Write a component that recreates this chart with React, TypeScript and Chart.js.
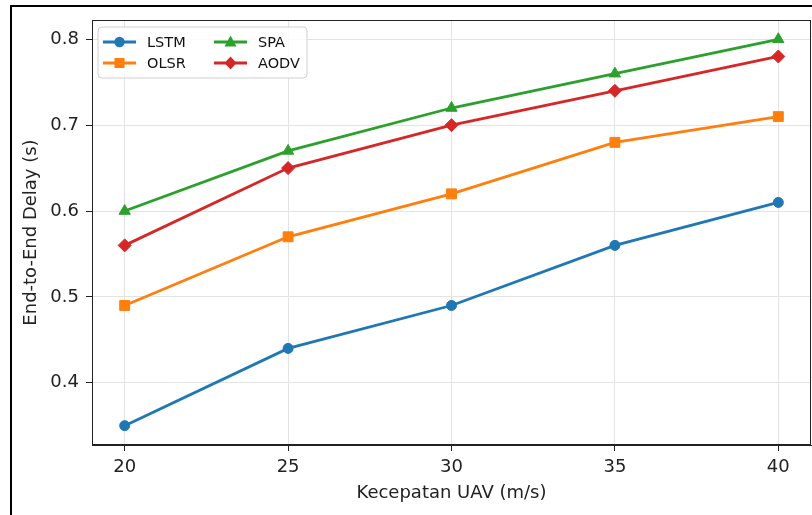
import React, { useEffect, useRef } from "react";
import Chart from "chart.js/auto";

const speeds = [20, 25, 30, 35, 40];
const lstm = [0.35, 0.44, 0.49, 0.56, 0.61];
const olsr = [0.49, 0.57, 0.62, 0.68, 0.71];
const spa = [0.6, 0.67, 0.72, 0.76, 0.8];
const aodv = [0.56, 0.65, 0.7, 0.74, 0.78];
const xTicks = [20, 25, 30, 35, 40];
const yTicks = [0.4, 0.5, 0.6, 0.7, 0.8];

const FONT = "'DejaVu Sans', sans-serif";

function drawMarker(ctx: CanvasRenderingContext2D, style: string, x: number, y: number, color: string) {
  ctx.save();
  ctx.fillStyle = color;
  ctx.beginPath();
  if (style === "circle") {
    ctx.arc(x, y, 5.2, 0, Math.PI * 2);
  } else if (style === "rect") {
    ctx.rect(x - 5, y - 5, 10, 10);
  } else if (style === "triangle") {
    ctx.moveTo(x, y - 6.5);
    ctx.lineTo(x + 6, y + 4.5);
    ctx.lineTo(x - 6, y + 4.5);
    ctx.closePath();
  } else {
    ctx.moveTo(x, y - 6.5);
    ctx.lineTo(x + 6, y);
    ctx.lineTo(x, y + 6.5);
    ctx.lineTo(x - 6, y);
    ctx.closePath();
  }
  ctx.fill();
  ctx.restore();
}

const framePlugin = {
  id: "mplFrame",
  afterDatasetsDraw(chart: any) {
    const { ctx, chartArea: a } = chart;
    ctx.save();
    ctx.strokeStyle = "#222";
    ctx.lineWidth = 1;
    ctx.strokeRect(a.left + 0.5, a.top + 0.5, a.right - a.left - 1, a.bottom - a.top - 1);
    ctx.restore();
  },
  afterDraw(chart: any) {
    const { ctx, chartArea: a } = chart;
    const bx = a.left + 6, by = a.top + 7, bw = 209, bh = 51;
    ctx.save();
    ctx.beginPath();
    const r = 4;
    ctx.moveTo(bx + r, by);
    ctx.lineTo(bx + bw - r, by);
    ctx.quadraticCurveTo(bx + bw, by, bx + bw, by + r);
    ctx.lineTo(bx + bw, by + bh - r);
    ctx.quadraticCurveTo(bx + bw, by + bh, bx + bw - r, by + bh);
    ctx.lineTo(bx + r, by + bh);
    ctx.quadraticCurveTo(bx, by + bh, bx, by + bh - r);
    ctx.lineTo(bx, by + r);
    ctx.quadraticCurveTo(bx, by, bx + r, by);
    ctx.closePath();
    ctx.fillStyle = "rgba(255,255,255,0.85)";
    ctx.fill();
    ctx.strokeStyle = "#d0d0d0";
    ctx.lineWidth = 1;
    ctx.stroke();
    const cols = [a.left + 11, a.left + 122];
    const rows = [a.top + 22, a.top + 43];
    chart.data.datasets.forEach((ds: any, i: number) => {
      const col = Math.floor(i / 2);
      const row = i % 2;
      const x = cols[col];
      const y = rows[row];
      ctx.strokeStyle = ds.borderColor;
      ctx.lineWidth = 2.8;
      ctx.beginPath();
      ctx.moveTo(x, y);
      ctx.lineTo(x + 33, y);
      ctx.stroke();
      drawMarker(ctx, ds.pointStyle, x + 16.5, y, ds.borderColor);
      ctx.fillStyle = "#111";
      ctx.font = `14.5px ${FONT}`;
      ctx.textBaseline = "middle";
      ctx.textAlign = "left";
      ctx.fillText(ds.label, x + 44, y + 1);
    });
    ctx.restore();
  },
};

export default function App() {
  const ref = useRef<HTMLCanvasElement>(null);
  useEffect(() => {
    if (!ref.current) return;
    const mk = (label: string, vals: number[], color: string, style: string, radius: number) => ({
      label,
      data: speeds.map((s, i) => ({ x: s, y: vals[i] })),
      borderColor: color,
      backgroundColor: color,
      pointBackgroundColor: color,
      pointBorderColor: color,
      pointStyle: style,
      pointRadius: radius,
      pointBorderWidth: 1,
      borderWidth: 2.8,
      tension: 0,
    });
    const chart = new Chart(ref.current, {
      type: "line",
      data: {
        datasets: [
          mk("LSTM", lstm, "#1f77b4", "circle", 5),
          mk("OLSR", olsr, "#ff7f0e", "rect", 7),
          mk("SPA", spa, "#2ca02c", "triangle", 6.5),
          mk("AODV", aodv, "#d62728", "rectRot", 6.5),
        ],
      },
      options: {
        animation: false,
        responsive: false,
        devicePixelRatio: 1,
        layout: { padding: { left: 0, top: 20, right: 2, bottom: 0 } },
        plugins: { legend: { display: false }, tooltip: { enabled: false } },
        scales: {
          x: {
            type: "linear",
            min: 19,
            max: 41,
            afterBuildTicks: (s: any) => {
              s.ticks = xTicks.map((v) => ({ value: v }));
            },
            afterFit: (s: any) => {
              s.height = 70;
            },
            grid: { color: "#e3e3e3", lineWidth: 1, drawTicks: true, tickLength: 6, tickColor: "#222" },
            border: { color: "#222", width: 1 },
            ticks: { color: "#222", padding: 6, font: { family: FONT, size: 18 }, callback: (v: any) => String(v) },
            title: { display: true, text: "Kecepatan UAV (m/s)", color: "#222", font: { family: FONT, size: 18 }, padding: { top: 0, bottom: 11 } },
          },
          y: {
            type: "linear",
            min: 0.3275,
            max: 0.8225,
            afterBuildTicks: (s: any) => {
              s.ticks = yTicks.map((v) => ({ value: v }));
            },
            afterFit: (s: any) => {
              s.width = 92;
            },
            grid: { color: "#e3e3e3", lineWidth: 1, drawTicks: true, tickLength: 6, tickColor: "#222" },
            border: { color: "#222", width: 1 },
            ticks: { color: "#222", padding: 7, font: { family: FONT, size: 18 }, callback: (v: any) => Number(v).toFixed(1) },
            title: { display: true, text: "End-to-End Delay (s)", color: "#222", font: { family: FONT, size: 18 }, padding: { top: 21, bottom: 0 } },
          },
        },
      },
      plugins: [framePlugin],
    } as any);
    return () => chart.destroy();
  }, []);
  return (
    <div style={{ position: "fixed", left: 0, top: 0, width: 812, height: 515, background: "#fff", overflow: "hidden" }}>
      <canvas ref={ref} width={819} height={515} style={{ position: "absolute", left: 0, top: 0 }} />
      <div style={{ position: "absolute", left: 10, top: 5, width: 820, height: 530, borderTop: "2px solid #000", borderLeft: "2px solid #000", pointerEvents: "none" }} />
    </div>
  );
}
